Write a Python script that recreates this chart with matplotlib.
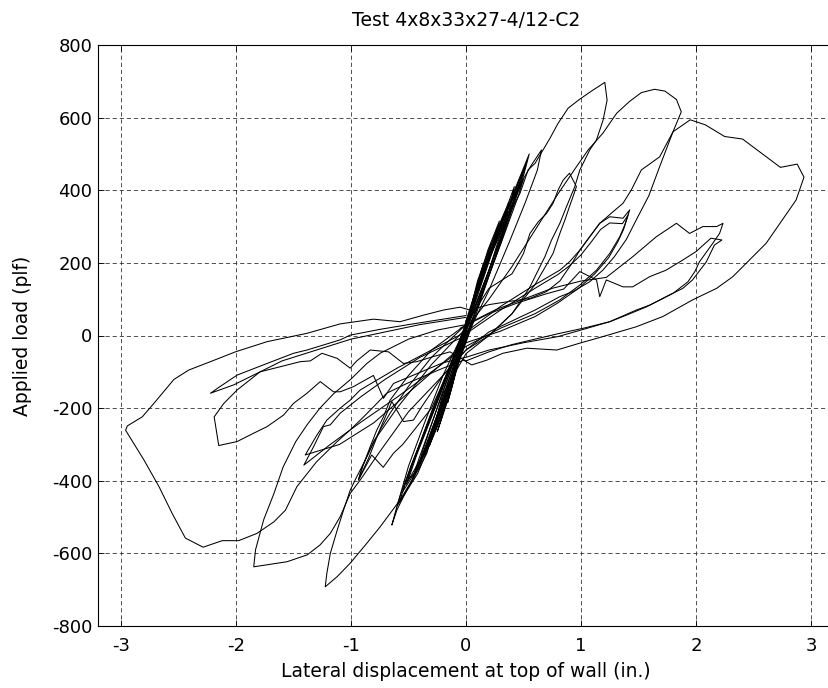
import matplotlib
matplotlib.use("Agg")
import matplotlib.pyplot as plt

plt.rcParams['font.family'] = ['DejaVu Sans']
plt.rcParams['axes.unicode_minus'] = False

title = "Test 4x8x33x27-4/12-C2"
xlabel = "Lateral displacement at top of wall (in.)"
ylabel = "Applied load (plf)"
xticks = [-3, -2, -1, 0, 1, 2, 3]
yticks = [-800, -600, -400, -200, 0, 200, 400, 600, 800]

# ---- small elastic cycles (displacement in., load plf) ----
cycle_1 = [(0.00, 20), (0.05, 85), (0.10, 150), (0.15, 195), (0.12, 160), (0.06, 90), (0.00, 25),
           (-0.06, -60), (-0.12, -140), (-0.16, -185), (-0.13, -150), (-0.06, -70), (0.00, 20)]
cycle_2 = [(0.00, 25), (0.07, 110), (0.15, 195), (0.22, 255), (0.19, 215), (0.10, 120), (0.01, 30),
           (-0.08, -80), (-0.17, -190), (-0.25, -265), (-0.21, -225), (-0.11, -110), (0.00, 25)]
cycle_3 = [(0.00, 25), (0.09, 130), (0.19, 235), (0.29, 315), (0.25, 270), (0.13, 150), (0.01, 30),
           (-0.10, -100), (-0.21, -220), (-0.32, -305), (-0.27, -260), (-0.14, -125), (0.00, 25)]
cycle_4 = [(0.00, 25), (0.11, 145), (0.24, 270), (0.37, 365), (0.32, 315), (0.17, 175), (0.02, 35),
           (-0.12, -120), (-0.26, -255), (-0.40, -355), (-0.34, -300), (-0.17, -145), (0.00, 25)]
cycle_5 = [(0.00, 25), (0.13, 160), (0.28, 290), (0.40, 370), (0.47, 424), (0.40, 355), (0.22, 195),
           (0.03, 40), (-0.13, -120), (-0.30, -275), (-0.47, -398), (-0.41, -340), (-0.21, -165), (0.00, 25)]
cycle_6 = [(0.00, 30), (0.12, 155), (0.27, 280), (0.38, 360), (0.44, 400), (0.38, 340), (0.20, 180),
           (0.02, 35), (-0.14, -130), (-0.31, -290), (-0.45, -380), (-0.50, -395), (-0.43, -330),
           (-0.22, -160), (0.00, 30)]
cycle_7 = [(0.00, 30), (0.15, 175), (0.30, 305), (0.45, 405), (0.57, 470), (0.657, 511), (0.62, 455),
           (0.52, 370), (0.38, 260), (0.20, 125), (0.04, 20), (-0.10, -95), (-0.30, -260),
           (-0.46, -395), (-0.544, -444), (-0.60, -480), (-0.645, -522), (-0.60, -470), (-0.50, -360),
           (-0.36, -240), (-0.20, -110), (0.00, 25)]
cycle_8 = [(0.00, 30), (0.20, 130), (0.40, 170), (0.47, 208), (0.50, 226), (0.556, 281), (0.628, 313),
           (0.70, 336), (0.757, 364), (0.80, 400), (0.845, 428), (0.90, 447), (0.96, 410), (0.93, 382),
           (0.90, 355), (0.86, 318), (0.816, 281), (0.757, 226), (0.60, 140), (0.40, 60), (0.20, 0),
           (0.00, -40), (-0.20, -110), (-0.385, -196), (-0.457, -233), (-0.544, -237), (-0.645, -182),
           (-0.75, -260), (-0.85, -340), (-0.935, -398), (-0.92, -380), (-0.877, -343), (-0.833, -306),
           (-0.775, -260), (-0.718, -224), (-0.66, -178), (-0.50, -110), (-0.30, -40), (0.00, 30)]
cycle_9 = [(0.00, 10), (-0.30, -200), (-0.55, -300), (-0.63, -324), (-0.72, -363), (-0.82, -329),
           (-0.935, -398), (-0.90, -360), (-0.80, -290), (-0.60, -200), (-0.30, -80), (0.00, 20)]
cycle_10 = [(0.00, 20), (0.14, 165), (0.30, 300), (0.43, 400), (0.52, 470), (0.46, 410), (0.27, 230),
            (0.05, 40), (-0.12, -110), (-0.30, -270), (-0.45, -380), (-0.55, -430), (-0.48, -360),
            (-0.25, -180), (0.00, 20)]
cycle_11 = [(0.00, 30), (0.16, 185), (0.33, 330), (0.46, 430), (0.55, 500), (0.50, 440), (0.32, 270),
            (0.08, 60), (-0.10, -100), (-0.28, -260), (-0.45, -390), (-0.58, -460), (-0.52, -400),
            (-0.30, -210), (0.00, 30)]
cycle_12 = [(0.00, 40), (0.10, 140), (0.22, 250), (0.34, 340), (0.42, 410), (0.39, 360), (0.28, 250),
            (0.12, 110), (0.00, 10), (-0.15, -140), (-0.30, -270), (-0.42, -370), (-0.38, -320),
            (-0.22, -170), (-0.05, -20), (0.00, 40)]
cycle_13 = [(0.00, 35), (0.12, 150), (0.26, 265), (0.40, 360), (0.50, 430), (0.45, 380), (0.30, 250),
            (0.10, 80), (-0.05, -40), (-0.20, -190), (-0.36, -320), (-0.52, -410), (-0.46, -350),
            (-0.26, -190), (0.00, 35)]
cycle_14 = [(0.00, 15), (0.10, 120), (0.21, 220), (0.33, 310), (0.36, 340), (0.31, 290), (0.18, 160),
            (0.03, 20), (-0.10, -110), (-0.24, -240), (-0.36, -330), (-0.31, -280), (-0.16, -130),
            (0.00, 15)]
cycle_15 = [(0.00, 25), (0.18, 190), (0.35, 340), (0.48, 440), (0.53, 480), (0.47, 420), (0.30, 260),
            (0.10, 70), (-0.08, -90), (-0.25, -250), (-0.42, -380), (-0.60, -470), (-0.55, -420),
            (-0.32, -230), (0.00, 25)]

# ---- peak cycle +-1.2 in. ----
cycle_a = [(0.00, 30), (0.10, 120), (0.20, 210), (0.353, 318), (0.41, 355), (0.47, 392), (0.50, 419),
           (0.54, 456), (0.60, 474), (0.67, 511), (0.73, 543), (0.80, 584), (0.888, 626), (0.99, 651),
           (1.10, 675), (1.207, 697), (1.227, 648), (1.192, 593), (1.134, 538), (1.076, 511),
           (0.99, 456), (0.946, 410), (0.874, 355), (0.816, 309), (0.744, 263), (0.686, 217),
           (0.55, 130), (0.40, 60), (0.20, 0), (0.00, -50), (-0.20, -160), (-0.34, -324), (-0.40, -361),
           (-0.486, -407), (-0.573, -453), (-0.66, -490), (-0.747, -527), (-0.862, -572),
           (-1.007, -627), (-1.12, -664), (-1.224, -692), (-1.21, -655), (-1.18, -600), (-1.12, -536),
           (-1.065, -481), (-1.007, -426), (-0.95, -389), (-0.89, -352), (-0.82, -306), (-0.747, -260),
           (-0.66, -214), (-0.50, -140), (-0.30, -60), (-0.10, 0), (0.00, 30)]

# ---- cycle +-1.8 in. ----
cycle_b = [(0.00, 20), (0.20, 100), (0.40, 190), (0.60, 290), (0.80, 390), (0.95, 460), (1.062, 511),
           (1.19, 557), (1.31, 612), (1.42, 644), (1.525, 669), (1.64, 678), (1.73, 673), (1.83, 650),
           (1.872, 616), (1.80, 561), (1.684, 465), (1.59, 385), (1.48, 318), (1.395, 265), (1.29, 217),
           (1.19, 180), (1.076, 148), (0.93, 121), (0.816, 107), (0.60, 70), (0.40, 40), (0.20, 10),
           (0.00, -40), (-0.20, -110), (-0.50, -210), (-0.75, -320), (-0.92, -398), (-1.007, -435),
           (-1.094, -499), (-1.18, -545), (-1.27, -577), (-1.38, -604), (-1.556, -623), (-1.846, -637),
           (-1.83, -590), (-1.76, -508), (-1.67, -435), (-1.59, -362), (-1.48, -292), (-1.38, -245),
           (-1.27, -200), (-1.15, -160), (-1.007, -122), (-0.862, -77), (-0.747, -49), (-0.50, -10),
           (-0.25, 15), (0.00, 30)]

# ---- repeat cycles after +-1.8 in. ----
cycle_k1 = [(0.00, 10), (0.30, 80), (0.60, 140), (0.816, 180), (0.90, 203), (0.99, 235), (1.076, 272),
            (1.163, 309), (1.25, 327), (1.365, 323), (1.424, 346), (1.38, 304), (1.337, 272),
            (1.25, 226), (1.135, 180), (0.99, 139), (0.816, 98), (0.60, 60), (0.30, 20), (0.00, -30),
            (-0.30, -100), (-0.60, -170), (-0.92, -240), (-1.18, -300), (-1.41, -357), (-1.325, -306),
            (-1.24, -251), (-1.18, -246), (-1.094, -214), (-0.92, -170), (-0.70, -120), (-0.40, -60),
            (0.00, 0)]
cycle_k2 = [(0.00, 5), (0.30, 70), (0.60, 130), (0.80, 168), (0.90, 192), (1.00, 222), (1.09, 258),
            (1.17, 292), (1.25, 310), (1.36, 308), (1.41, 332), (1.37, 292), (1.32, 258), (1.24, 214),
            (1.12, 170), (0.98, 130), (0.80, 90), (0.60, 52), (0.30, 12), (0.00, -20), (-0.40, -130),
            (-0.80, -240), (-1.10, -300), (-1.398, -329), (-1.296, -274), (-1.21, -233), (-1.094, -200),
            (-1.007, -178), (-0.92, -150), (-0.60, -90), (-0.30, -40), (0.00, 10)]

# ---- largest cycle +-2.9 in. ----
cycle_c = [(0.035, 70), (0.20, 85), (0.40, 95), (0.556, 102), (0.70, 121), (0.816, 150), (0.93, 203),
           (0.99, 235), (1.076, 272), (1.163, 309), (1.279, 341), (1.365, 364), (1.438, 401),
           (1.525, 456), (1.684, 492), (1.80, 561), (1.95, 594), (2.082, 580), (2.249, 548),
           (2.405, 541), (2.734, 463), (2.88, 472), (2.939, 436), (2.87, 373), (2.61, 254), (2.32, 162),
           (2.18, 130), (1.97, 98), (1.71, 52), (1.48, 24), (1.19, -3), (0.99, -21), (0.79, -40),
           (0.53, -35), (0.32, -49), (0.18, -68), (0.05, -81), (-0.02, -68), (-0.20, -90),
           (-0.50, -130), (-0.69, -159), (-0.775, -187), (-0.89, -224), (-1.007, -260), (-1.12, -292),
           (-1.30, -348), (-1.47, -416), (-1.57, -481), (-1.67, -513), (-1.818, -545), (-1.977, -565),
           (-2.12, -565), (-2.286, -583), (-2.44, -558), (-2.555, -490), (-2.67, -416), (-2.80, -343),
           (-2.96, -261), (-2.945, -249), (-2.815, -224), (-2.714, -187), (-2.54, -121), (-2.41, -95),
           (-2.222, -72), (-2.005, -45), (-1.73, -17), (-1.383, 6), (-1.094, 32), (-0.805, 45),
           (-0.573, 38), (-0.37, 56), (-0.197, 70), (-0.052, 78), (0.035, 70)]

# ---- repeat cycles after +-2.9 in. ----
cycle_f = [(0.00, 30), (0.25, 70), (0.50, 100), (0.75, 130), (1.00, 150), (1.22, 160), (1.45, 217),
           (1.655, 272), (1.83, 309), (1.944, 281), (2.06, 300), (2.18, 300), (2.235, 309),
           (2.205, 281), (2.146, 254), (2.03, 203), (1.99, 176), (1.93, 148), (1.80, 116), (1.60, 84),
           (1.48, 70), (1.25, 38), (1.00, 15), (0.80, -3), (0.50, -20), (0.20, -40), (0.00, -60),
           (-0.20, -75), (-0.486, -113), (-0.63, -132), (-0.718, -173), (-0.805, -110), (-0.98, -141),
           (-1.094, -155), (-1.152, -155), (-1.267, -127), (-1.383, -159), (-1.50, -187),
           (-1.586, -219), (-1.73, -251), (-1.846, -269), (-1.99, -292), (-2.15, -303), (-2.19, -224),
           (-2.106, -187), (-1.99, -150), (-1.79, -100), (-1.60, -70), (-1.30, -40), (-1.00, -10),
           (-0.70, 10), (-0.40, 30), (0.00, 50)]
cycle_g = [(-0.05, 20), (0.20, 60), (0.45, 90), (0.70, 115), (0.85, 128), (0.99, 176), (1.135, 153),
           (1.163, 107), (1.22, 153), (1.365, 134), (1.45, 134), (1.597, 162), (1.74, 180),
           (1.886, 208), (2.00, 231), (2.13, 268), (2.225, 263), (2.16, 249), (2.09, 203), (1.97, 153),
           (1.886, 130), (1.74, 107), (1.57, 79), (1.395, 56), (1.25, 38), (1.02, 20), (0.816, 6),
           (0.60, -10), (0.40, -25), (0.20, -45), (0.00, -70), (-0.14, -45), (-0.283, -58),
           (-0.428, -72), (-0.544, -77), (-0.674, -45), (-0.833, -40), (-0.95, -70), (-1.007, -90),
           (-1.12, -63), (-1.253, -49), (-1.354, -70), (-1.44, -72), (-1.615, -86), (-1.79, -100),
           (-2.02, -136), (-2.222, -159), (-2.15, -143), (-1.99, -109), (-1.73, -77), (-1.50, -49),
           (-1.383, -40), (-1.094, -12), (-1.007, 1), (-0.747, 17), (-0.50, 30), (-0.20, 45),
           (0.00, 55)]

cycles = [cycle_1, cycle_2, cycle_3, cycle_4, cycle_5, cycle_6, cycle_7, cycle_8, cycle_9,
          cycle_10, cycle_11, cycle_12, cycle_13, cycle_14, cycle_15, cycle_a, cycle_b,
          cycle_k1, cycle_k2, cycle_c, cycle_f, cycle_g]

fig = plt.figure(figsize=(8.29, 6.88), dpi=100)
ax = fig.add_axes([98 / 829, 62 / 688, 736 / 829, 581 / 688])

for cyc in cycles:
    xs = [p[0] for p in cyc]
    ys = [p[1] for p in cyc]
    ax.plot(xs, ys, color='black', linewidth=0.75)

ax.set_xlim(-3.2, 3.2)
ax.set_ylim(-800, 800)
ax.set_xticks(xticks)
ax.set_yticks(yticks)
ax.grid(True, color='0.2', linestyle=(0, (5, 3.5)), linewidth=0.6)
ax.tick_params(direction='in', length=4, width=0.6, top=True, right=True, labelsize=13)
ax.tick_params(axis='x', pad=8)
ax.tick_params(axis='y', pad=4)
for s in ax.spines.values():
    s.set_linewidth(0.8)

ax.set_title(title, fontsize=13.5, pad=14)
ax.set_xlabel(xlabel, fontsize=13.5, labelpad=5)
ax.set_ylabel(ylabel, fontsize=13.5, labelpad=14)

fig.savefig("out.png", dpi=100)
